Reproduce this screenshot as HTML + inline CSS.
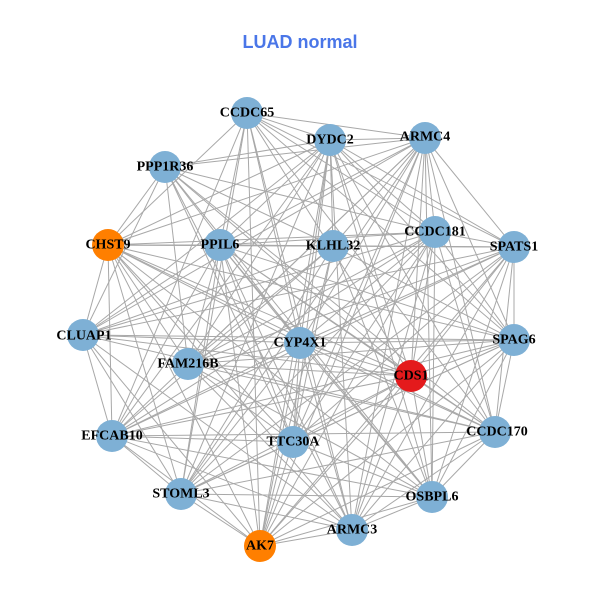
<!DOCTYPE html>
<html><head><meta charset="utf-8"><style>
html,body{margin:0;padding:0;background:#fff;}
svg{display:block;}
text.l{font-family:"Liberation Serif",serif;font-weight:bold;font-size:14px;fill:#000;text-anchor:middle;dominant-baseline:central;}
</style></head><body>
<svg id="s" width="600" height="600" viewBox="0 0 600 600">
<rect width="600" height="600" fill="#fff"/>
<g id="edges" stroke="#a8a8a8" stroke-width="1"></g>
<g id="nodes"></g>
<text x="300" y="42" text-anchor="middle" dominant-baseline="central" font-family="Liberation Sans,sans-serif" font-weight="bold" font-size="18" fill="#4a76e8">LUAD normal</text>
<g>
<text class="l" x="247" y="113">CCDC65</text>
<text class="l" x="330" y="140">DYDC2</text>
<text class="l" x="425" y="137">ARMC4</text>
<text class="l" x="165" y="167">PPP1R36</text>
<text class="l" x="108" y="245">CHST9</text>
<text class="l" x="220" y="245">PPIL6</text>
<text class="l" x="333" y="246">KLHL32</text>
<text class="l" x="435" y="232">CCDC181</text>
<text class="l" x="514" y="247">SPATS1</text>
<text class="l" x="84" y="336">CLUAP1</text>
<text class="l" x="300" y="343">CYP4X1</text>
<text class="l" x="514" y="340">SPAG6</text>
<text class="l" x="188" y="364">FAM216B</text>
<text class="l" x="411" y="376">CDS1</text>
<text class="l" x="112" y="436">EFCAB10</text>
<text class="l" x="293" y="442">TTC30A</text>
<text class="l" x="497" y="432">CCDC170</text>
<text class="l" x="181" y="494">STOML3</text>
<text class="l" x="432" y="497">OSBPL6</text>
<text class="l" x="352" y="530">ARMC3</text>
<text class="l" x="260" y="546">AK7</text>
</g>
</svg>
<script>
var N=[[247,113,0],[330,140,0],[425,138,0],[165,167,0],[108,245,1],[220,245,0],[333,246,0],[435,232,0],[514,247,0],[83,335,0],[300,343,0],[514,340,0],[188,364,0],[411,376,2],[112,436,0],[293,442,0],[495,432,0],[181,494,0],[432,497,0],[352,530,0],[260,546,1]];
var C=["#7eb0d5","#ff7f00","#e41a1c"];
var ns="http://www.w3.org/2000/svg",E=document.getElementById("edges"),G=document.getElementById("nodes");
for(var i=0;i<N.length;i++)for(var j=i+1;j<N.length;j++){
 if((i*7+j*3)%9==0)continue;
 var l=document.createElementNS(ns,"line");
 l.setAttribute("x1",N[i][0]);l.setAttribute("y1",N[i][1]);l.setAttribute("x2",N[j][0]);l.setAttribute("y2",N[j][1]);E.appendChild(l);}
N.forEach(function(n){var c=document.createElementNS(ns,"circle");c.setAttribute("cx",n[0]);c.setAttribute("cy",n[1]);c.setAttribute("r",16);c.setAttribute("fill",C[n[2]]);G.appendChild(c);});
</script>
</body></html>
